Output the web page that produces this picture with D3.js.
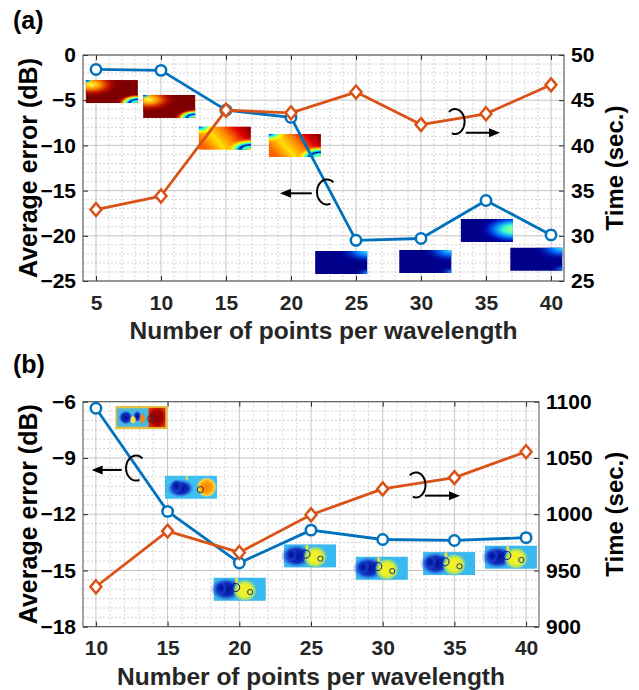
<!DOCTYPE html>
<html>
<head>
<meta charset="utf-8">
<script src="https://cdn.jsdelivr.net/npm/d3@7"></script>
<style>
  body { margin: 0; background: #fff; }
  svg { display: block; font-family: "Liberation Sans", Arial, sans-serif; font-weight: bold; }
</style>
</head>
<body>
<div id="chart"></div>
<script>
(function () {

  // Datos
  const ptsA = [5, 10, 15, 20, 25, 30, 35, 40]
  const errA = [-1.6, -1.7, -6.1, -6.9, -20.5, -20.3, -16.1, -19.9]
  const timeA = [32.9, 34.4, 43.9, 43.6, 45.9, 42.3, 43.5, 46.7]

  const ptsB = [10, 15, 20, 25, 30, 35, 40]
  const errB = [-6.35, -11.85, -14.6, -12.85, -13.35, -13.4, -13.25]
  const timeB = [935.5, 985, 966, 999.5, 1022.5, 1032.5, 1055.5]

  const xTicksA = [5, 10, 15, 20, 25, 30, 35, 40]
  const yTicksA = [0, -5, -10, -15, -20, -25]
  const tTicksA = [50, 45, 40, 35, 30, 25]

  const xTicksB = [10, 15, 20, 25, 30, 35, 40]
  const yTicksB = [-6, -9, -12, -15, -18]
  const tTicksB = [1100, 1050, 1000, 950, 900]

  const xLabel = 'Number of points per wavelength'
  const yLabel = 'Average error (dB)'
  const tLabel = 'Time (sec.)'

  // Mapas de campo (insets): centro x y borde superior en unidades de datos
  const insetsA = [
    { x: 6.22, y: -2.77, kind: 'aRed' }, { x: 10.63, y: -4.42, kind: 'aRed' },
    { x: 14.91, y: -7.93, kind: 'aMid' }, { x: 20.3, y: -8.74, kind: 'aMid' },
    { x: 23.86, y: -21.68, kind: 'aDark' }, { x: 30.33, y: -21.57, kind: 'aDark' },
    { x: 35.07, y: -18.14, kind: 'aCyan' }, { x: 38.87, y: -21.32, kind: 'aDark' }
  ]
  const insetsB = [
    { x: 13.17, y: -6.23, kind: 'bRed' }, { x: 16.63, y: -9.95, kind: 'bOrange' },
    { x: 20.03, y: -15.39, kind: 'bYel' }, { x: 24.93, y: -13.61, kind: 'bYel' },
    { x: 29.94, y: -14.27, kind: 'bYel' }, { x: 34.63, y: -14.02, kind: 'bYel' },
    { x: 38.94, y: -13.68, kind: 'bYel' }
  ]

  const blue = '#0072BD'
  const orange = '#D95319'
  const W = 639, H = 690
  const INSET_W = 52, INSET_H = 23

  const svg = d3.select('#chart').append('svg').attr('width', W).attr('height', H)
  svg.append('rect').attr('width', W).attr('height', H).attr('fill', '#fff')
  const defs = svg.append('defs')

  const radial = (id, cx, cy, r, stops) => {
    const gr = defs.append('radialGradient').attr('id', id)
      .attr('cx', cx).attr('cy', cy).attr('r', r).attr('fx', cx).attr('fy', cy)
    stops.forEach(s => gr.append('stop').attr('offset', s[0]).attr('stop-color', s[1]).attr('stop-opacity', s[2] === undefined ? 1 : s[2]))
  }
  const linear = (id, x1, y1, x2, y2, stops) => {
    const gr = defs.append('linearGradient').attr('id', id)
      .attr('x1', x1).attr('y1', y1).attr('x2', x2).attr('y2', y2)
    stops.forEach(s => gr.append('stop').attr('offset', s[0]).attr('stop-color', s[1]).attr('stop-opacity', s[2] === undefined ? 1 : s[2]))
  }

  // Gradientes tipo "jet"
  radial('aRedYl', 0.1, 0.2, 0.55, [[0, '#ffff40'], [0.3, '#ffa000'], [0.65, '#d01000', 0.8], [1, '#7f0000', 0]])
  radial('aRedTl', 0, 0, 0.15, [[0, '#0000c0'], [0.5, '#00c0ff'], [1, '#ffff00', 0]])
  radial('aRedBr', 1, 1, 0.38, [[0, '#ffc000'], [0.3, '#00ffff'], [0.42, '#0000c0'], [0.55, '#00ffff'], [0.7, '#ffff00'], [0.88, '#ff4000', 0.6], [1, '#ff0000', 0]])
  linear('aMidBase', 0, 0.6, 1, 0.2, [[0, '#ff6000'], [0.3, '#ffe000'], [0.55, '#ff8000'], [0.8, '#e00000'], [1, '#900000']])
  radial('aMidTl', 0, 0, 0.35, [[0, '#0000ff'], [0.3, '#00ffff'], [0.6, '#ffff00'], [1, '#ffd000', 0]])
  radial('aMidBr', 1, 1, 0.5, [[0, '#ffff00'], [0.3, '#00ffff'], [0.42, '#000090'], [0.55, '#00ffff'], [0.7, '#ffff00'], [1, '#ff8000', 0]])
  radial('aDarkTr', 1, 0, 0.55, [[0, '#40e0ff'], [0.4, '#0070ff'], [1, '#0000a0', 0]])
  radial('aDarkBr', 1, 0.95, 0.25, [[0, '#2090ff'], [1, '#0000a0', 0]])
  radial('aCyanR', 1, 0.45, 0.7, [[0, '#b0ff70'], [0.25, '#40ffd0'], [0.5, '#0080ff'], [0.8, '#0000c0', 0.5], [1, '#0000a0', 0]])
  radial('bRedR', 0.5, 0.5, 0.6, [[0, '#8a0000'], [0.6, '#a80000'], [1, '#e03000']])
  radial('bBlob', 0.5, 0.5, 0.5, [[0, '#000c90'], [0.6, '#1030c0'], [1, '#3070e0', 0]])
  radial('bOrangeC', 0.5, 0.5, 0.5, [[0, '#ff8000'], [0.5, '#ffa000'], [0.8, '#ffd040'], [1, '#60d0f0', 0]])
  radial('bYelC', 0.5, 0.5, 0.5, [[0, '#f8f020'], [0.55, '#e8f030'], [0.8, '#a0e070', 0.9], [1, '#40b8f0', 0]])

  // Capas de cada tipo de inset, en fracciones del rectángulo
  const insetKinds = {
    aRed: [['rect', '#7f0000'], ['rect', 'url(#aRedYl)'], ['rect', 'url(#aRedTl)'], ['rect', 'url(#aRedBr)']],
    aMid: [['rect', 'url(#aMidBase)'], ['rect', 'url(#aMidTl)'], ['rect', 'url(#aMidBr)']],
    aDark: [['rect', '#00008a'], ['rect', 'url(#aDarkTr)'], ['rect', 'url(#aDarkBr)']],
    aCyan: [['rect', '#00008a'], ['rect', 'url(#aCyanR)']],
    bRed: [['rect', '#e8c040'], ['box', 0.03, 0.1, 0.62, 0.8, '#48b8e0'],
      ['ell', 0.2, 0.5, 0.14, 0.32, 'url(#bBlob)'], ['ell', 0.42, 0.45, 0.08, 0.25, 'url(#bBlob)'],
      ['ell', 0.34, 0.6, 0.05, 0.15, '#f0e040'], ['ell', 0.52, 0.55, 0.05, 0.18, '#f08020'],
      ['box', 0.64, 0.08, 0.32, 0.84, 'url(#bRedR)'], ['circ', 0.68, 0.55, 0.06, 'none', '#303030']],
    bOrange: [['rect', '#40c0f0'], ['ell', 0.3, 0.55, 0.26, 0.4, 'url(#bBlob)'], ['ell', 0.22, 0.45, 0.12, 0.3, 'url(#bBlob)'],
      ['ell', 0.8, 0.5, 0.2, 0.45, 'url(#bOrangeC)'], ['circ', 0.68, 0.6, 0.06, 'none', '#303030'], ['ell', 0.42, 0.1, 0.02, 0.1, '#f0e040']],
    bYel: [['rect', '#3ab8f0'], ['ell', 0.24, 0.5, 0.3, 0.5, 'url(#bBlob)'], ['ell', 0.14, 0.45, 0.12, 0.3, 'url(#bBlob)'],
      ['ell', 0.6, 0.55, 0.24, 0.5, 'url(#bYelC)'],
      ['circ', 0.42, 0.42, 0.08, 'none', '#001890'], ['ell', 0.44, 0.12, 0.03, 0.12, '#f0e040'], ['circ', 0.7, 0.62, 0.05, 'none', '#203080']]
  }

  const drawInset = (g, cx, top, kind) => {
    const gi = g.append('g').attr('transform', `translate(${cx - INSET_W / 2},${top})`)
    insetKinds[kind].forEach(l => {
      if (l[0] === 'rect') {
        gi.append('rect').attr('width', INSET_W).attr('height', INSET_H).attr('fill', l[1])
      } else if (l[0] === 'box') {
        gi.append('rect').attr('x', l[1] * INSET_W).attr('y', l[2] * INSET_H)
          .attr('width', l[3] * INSET_W).attr('height', l[4] * INSET_H).attr('fill', l[5])
      } else if (l[0] === 'ell') {
        gi.append('ellipse').attr('cx', l[1] * INSET_W).attr('cy', l[2] * INSET_H)
          .attr('rx', l[3] * INSET_W).attr('ry', l[4] * INSET_H).attr('fill', l[5])
      } else if (l[0] === 'circ') {
        gi.append('circle').attr('cx', l[1] * INSET_W).attr('cy', l[2] * INSET_H)
          .attr('r', l[3] * INSET_W).attr('fill', l[4]).attr('stroke', l[5]).attr('stroke-width', 1)
      }
    })
  }

  // Flecha con el lazo que indica a qué eje pertenece cada curva
  const arcPath = (cx, cy, rx, ry, a0, a1) => d3.line()(d3.range(0, 41).map(i => {
    const a = (a0 + (a1 - a0) * i / 40) * Math.PI / 180
    return [cx + rx * Math.cos(a), cy + ry * Math.sin(a)]
  }))

  const drawArrow = (g, x1, x2, y) => {
    const dir = x2 > x1 ? 1 : -1
    g.append('line').attr('x1', x1).attr('x2', x2 - dir * 8).attr('y1', y).attr('y2', y)
      .attr('stroke', '#000').attr('stroke-width', 2)
    g.append('path').attr('d', `M${x2},${y}L${x2 - dir * 11},${y - 4.5}L${x2 - dir * 11},${y + 4.5}Z`).attr('fill', '#000')
  }

  const diamond = 'M0,-6.5L5.5,0L0,6.5L-5.5,0Z'

  const drawPanel = cfg => {
    const x = d3.scaleLinear().domain(cfg.xDom).range([cfg.left, cfg.right])
    const y = d3.scaleLinear().domain(cfg.yDom).range([cfg.bottom, cfg.top])
    const t = d3.scaleLinear().domain(cfg.tDom).range([cfg.bottom, cfg.top])
    const g = svg.append('g')

    // Rejilla menor (punteada)
    const near = (arr, v) => arr.some(k => Math.abs(k - v) < 1e-6)
    const minorX = d3.range(Math.ceil(cfg.xDom[0]), cfg.xDom[1] + 1e-9, 1).filter(v => !near(cfg.xTicks, v))
    const minorY = d3.range(cfg.yDom[0], cfg.yDom[1] + 1e-9, cfg.yMinor).filter(v => !near(cfg.yTicks, v))
    g.append('g').selectAll('line').data(minorX).join('line')
      .attr('x1', d => x(d)).attr('x2', d => x(d)).attr('y1', cfg.top).attr('y2', cfg.bottom)
      .attr('stroke', '#d2d2d2').attr('stroke-dasharray', '2,2')
    g.append('g').selectAll('line').data(minorY).join('line')
      .attr('y1', d => y(d)).attr('y2', d => y(d)).attr('x1', cfg.left).attr('x2', cfg.right)
      .attr('stroke', '#d2d2d2').attr('stroke-dasharray', '2,2')

    // Rejilla mayor
    g.append('g').selectAll('line').data(cfg.xTicks).join('line')
      .attr('x1', d => x(d)).attr('x2', d => x(d)).attr('y1', cfg.top).attr('y2', cfg.bottom)
      .attr('stroke', '#c4c4c4')
    g.append('g').selectAll('line').data(cfg.yTicks).join('line')
      .attr('y1', d => y(d)).attr('y2', d => y(d)).attr('x1', cfg.left).attr('x2', cfg.right)
      .attr('stroke', '#c4c4c4')

    // Ejes
    const styleAxis = (sel, color) => {
      sel.select('.domain').remove()
      sel.selectAll('.tick line').attr('stroke', '#262626')
      sel.selectAll('.tick text').attr('fill', color).attr('font-size', 21)
        .attr('font-family', '"Liberation Sans", Arial, sans-serif').attr('font-weight', 'bold')
    }
    g.append('g').attr('transform', `translate(0,${cfg.bottom})`)
      .call(d3.axisBottom(x).tickValues(cfg.xTicks).tickSize(-5).tickPadding(cfg.xPad).tickFormat(d3.format('d')))
      .call(s => styleAxis(s, '#262626'))
    g.append('g').attr('transform', `translate(0,${cfg.top})`)
      .call(d3.axisTop(x).tickValues(cfg.xTicks).tickSize(-5).tickFormat(''))
      .call(s => styleAxis(s, '#262626'))
    g.append('g').attr('transform', `translate(${cfg.left},0)`)
      .call(d3.axisLeft(y).tickValues(cfg.yTicks).tickSize(-5).tickPadding(7).tickFormat(d3.format('d')))
      .call(s => styleAxis(s, '#000'))
    g.append('g').attr('transform', `translate(${cfg.right},0)`)
      .call(d3.axisRight(t).tickValues(cfg.tTicks).tickSize(-5).tickPadding(7).tickFormat(d3.format('d')))
      .call(s => styleAxis(s, '#000'))

    g.append('rect').attr('x', cfg.left).attr('y', cfg.top)
      .attr('width', cfg.right - cfg.left).attr('height', cfg.bottom - cfg.top)
      .attr('fill', 'none').attr('stroke', '#4d4d4d').attr('stroke-width', 1)

    // Insets
    cfg.insets.forEach(d => drawInset(g, x(d.x), y(d.y), d.kind))

    // Curvas
    const errPts = cfg.pts.map((p, i) => [x(p), y(cfg.err[i])])
    const timePts = cfg.pts.map((p, i) => [x(p), t(cfg.time[i])])
    g.append('path').attr('d', d3.line()(errPts)).attr('fill', 'none')
      .attr('stroke', blue).attr('stroke-width', 2.8).attr('stroke-linejoin', 'round')
    g.append('g').selectAll('circle').data(errPts).join('circle')
      .attr('cx', d => d[0]).attr('cy', d => d[1]).attr('r', 5.2)
      .attr('fill', '#fff').attr('stroke', blue).attr('stroke-width', 2.5)
    g.append('path').attr('d', d3.line()(timePts)).attr('fill', 'none')
      .attr('stroke', orange).attr('stroke-width', 2.8).attr('stroke-linejoin', 'round')
    g.append('g').selectAll('path').data(timePts).join('path')
      .attr('d', diamond).attr('transform', d => `translate(${d[0]},${d[1]})`)
      .attr('fill', '#fff').attr('stroke', orange).attr('stroke-width', 2.5)

    // Anotaciones de eje (flecha + lazo)
    const L = cfg.leftNote, R = cfg.rightNote
    g.append('path').attr('d', arcPath(x(L.arcX), y(L.arcY), 10, 12.5, -50, -290))
      .attr('fill', 'none').attr('stroke', '#000').attr('stroke-width', 2)
    drawArrow(g, x(L.from), x(L.to), y(L.y))
    g.append('path').attr('d', arcPath(x(R.arcX), y(R.arcY), 9.5, 12.5, 230, 470))
      .attr('fill', 'none').attr('stroke', '#000').attr('stroke-width', 2)
    drawArrow(g, x(R.from), x(R.to), y(R.y))

    // Etiquetas
    g.append('text').attr('x', 13).attr('y', cfg.tagY).attr('font-size', 25).attr('fill', '#000').text(cfg.tag)
    g.append('text').attr('x', (cfg.left + cfg.right) / 2).attr('y', cfg.xLabelY)
      .attr('text-anchor', 'middle').attr('font-size', 24.5).attr('fill', '#262626').text(xLabel)
    g.append('text').attr('transform', `translate(37,${(cfg.top + cfg.bottom) / 2}) rotate(-90)`)
      .attr('text-anchor', 'middle').attr('font-size', 25).attr('fill', '#000').text(yLabel)
    g.append('text').attr('transform', `translate(623,${(cfg.top + cfg.bottom) / 2}) rotate(-90)`)
      .attr('text-anchor', 'middle').attr('font-size', 24).attr('fill', '#000').text(tLabel)
  }

  drawPanel({
    tag: '(a)', tagY: 29,
    left: 83, right: 564, top: 55, bottom: 281,
    xDom: [4, 41], yDom: [-25, 0], tDom: [25, 50], yMinor: 1,
    xTicks: xTicksA, yTicks: yTicksA, tTicks: tTicksA, xPad: 14, xLabelY: 339,
    pts: ptsA, err: errA, time: timeA, insets: insetsA,
    leftNote: { arcX: 22.77, arcY: -15.15, from: 21.6, to: 19.15, y: -15.3 },
    rightNote: { arcX: 32.62, arcY: -7.36, from: 33.44, to: 36.08, y: -8.6 }
  })

  drawPanel({
    tag: '(b)', tagY: 373,
    left: 83, right: 539, top: 401.7, bottom: 626.7,
    xDom: [9.1, 40.9], yDom: [-18, -6], tDom: [900, 1100], yMinor: 0.5,
    xTicks: xTicksB, yTicks: yTicksB, tTicks: tTicksB, xPad: 13, xLabelY: 685,
    pts: ptsB, err: errB, time: timeB, insets: insetsB,
    leftNote: { arcX: 12.8, arcY: -9.54, from: 11.8, to: 9.7, y: -9.64 },
    rightNote: { arcX: 32.32, arcY: -10.44, from: 32.95, to: 35.39, y: -11.01 }
  })

})()
</script>
</body>
</html>
